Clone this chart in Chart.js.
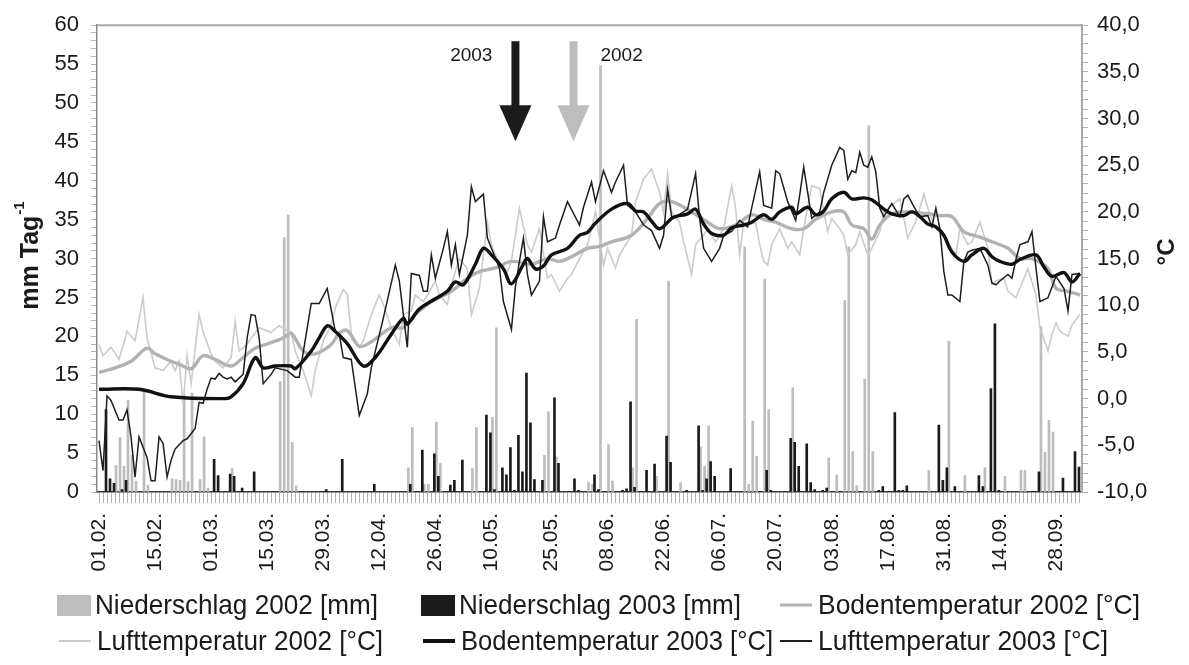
<!DOCTYPE html>
<html>
<head>
<meta charset="utf-8">
<script src="https://cdn.jsdelivr.net/npm/chart.js@4.4.1/dist/chart.umd.min.js"></script>
<style>
    html, body { margin: 0; padding: 0; background: #fff; }
</style>
</head>
<body>
<canvas id="chart" width="1189" height="665"></canvas>
<script>
/* Niederschlag + Boden-/Lufttemperatur 2002 vs 2003, 01.02. – 04.10. */

const FONT = '"Liberation Sans", Arial, sans-serif';
const DAY_COUNT = 246;

const TICK_DAYS = [0, 14, 28, 42, 56, 70, 84, 98, 113, 127, 141, 155, 169, 183, 197, 211, 225, 239];
const TICK_LABELS = ["01.02.", "15.02.", "01.03.", "15.03.", "29.03.", "12.04.", "26.04.", "10.05.", "25.05.",
    "08.06.", "22.06.", "06.07.", "20.07.", "03.08.", "17.08.", "31.08.", "14.09.", "28.09."];

/* [day, mm] */
const PRECIP_2002 = [
    [4, 3.4], [5, 7.0], [6, 3.3], [7, 11.8], [8, 4.7], [9, 1.4], [11, 13.2], [12, 0.9], [18, 1.7], [19, 1.6],
    [20, 1.5], [21, 12.6], [22, 1.3], [23, 12.7], [25, 1.6], [26, 7.1], [27, 0.5], [33, 3.0], [45, 14.2], [46, 32.7],
    [47, 35.6], [48, 6.4], [49, 0.8], [77, 3.1], [78, 8.3], [81, 1.0], [82, 1.0], [84, 9.0], [85, 3.7], [93, 3.0],
    [94, 8.3], [98, 9.6], [99, 21.1], [111, 4.7], [112, 10.3], [114, 4.5], [122, 1.2], [123, 1.0], [125, 54.8], [127, 6.1],
    [128, 1.4], [133, 3.1], [134, 22.2], [139, 2.0], [142, 27.1], [145, 1.2], [150, 5.8], [151, 3.3], [152, 8.5], [161, 31.5],
    [162, 1.0], [163, 9.1], [164, 4.6], [166, 27.4], [167, 10.6], [173, 13.4], [182, 4.4], [184, 2.2], [186, 24.6], [187, 31.5],
    [188, 5.2], [189, 0.8], [191, 14.5], [192, 47.1], [193, 5.2], [207, 2.8], [212, 19.4], [216, 2.1], [221, 3.1], [226, 2.0],
    [230, 2.8], [231, 2.8], [235, 21.3], [236, 5.1], [237, 9.2], [238, 7.7]
];

const PRECIP_2003 = [
    [2, 10.6], [3, 1.7], [4, 1.1], [6, 0.3], [7, 1.5], [29, 4.2], [30, 2.1], [33, 2.3], [34, 2.0], [36, 0.5],
    [39, 2.6], [57, 0.3], [61, 4.2], [69, 1.0], [78, 1.0], [81, 5.4], [84, 4.9], [85, 2.0], [88, 0.9], [89, 1.5],
    [91, 4.1], [97, 9.9], [98, 7.6], [99, 0.3], [101, 3.1], [102, 2.2], [103, 5.7], [104, 0.2], [105, 7.3], [106, 2.6],
    [107, 15.3], [108, 8.9], [109, 1.6], [111, 1.5], [114, 12.1], [115, 3.7], [119, 1.7], [120, 0.2], [124, 2.2], [125, 0.3],
    [131, 0.2], [132, 0.4], [133, 11.6], [134, 0.6], [137, 2.8], [139, 3.6], [142, 7.2], [143, 3.8], [147, 0.2], [150, 8.5],
    [151, 0.2], [152, 1.7], [153, 3.9], [154, 2.0], [158, 3.0], [167, 2.8], [168, 0.2], [173, 6.9], [174, 6.4], [175, 3.3],
    [177, 6.2], [178, 1.2], [179, 0.3], [181, 0.2], [182, 0.5], [195, 0.2], [196, 0.7], [199, 10.2], [200, 0.2], [201, 0.2],
    [202, 0.8], [210, 8.6], [211, 1.5], [212, 3.1], [214, 0.7], [220, 2.1], [221, 0.7], [223, 13.3], [224, 21.6], [225, 0.2],
    [235, 2.6], [241, 1.8], [244, 5.2], [245, 3.2]
];

/* [day, °C] */
const SOIL_2002 = [
    [0, 2.8], [4, 3.3], [8, 4.0], [12, 5.4], [14, 4.8], [18, 4.0], [20, 3.7], [23, 3.2], [26, 4.6], [29, 4.2],
    [33, 3.5], [36, 4.4], [39, 5.4], [43, 6.0], [46, 6.5], [48, 7.0], [51, 5.1], [54, 4.8], [58, 5.8], [60, 7.0],
    [62, 7.3], [65, 5.6], [68, 6.1], [73, 7.6], [76, 7.6], [79, 9.0], [83, 10.4], [88, 11.5], [92, 12.9], [95, 13.6],
    [99, 14.0], [103, 14.7], [108, 14.4], [112, 15.0], [115, 14.7], [118, 15.2], [122, 16.1], [125, 16.3], [128, 16.8], [133, 17.5],
    [137, 19.3], [140, 20.9], [143, 21.1], [148, 20.0], [152, 18.9], [155, 18.2], [159, 18.6], [163, 19.7], [166, 19.2], [169, 18.9],
    [173, 18.2], [176, 18.2], [179, 19.2], [183, 20.0], [186, 20.0], [188, 18.6], [191, 18.2], [193, 17.1], [195, 18.6], [198, 19.8],
    [202, 20.0], [207, 19.8], [210, 19.6], [213, 19.5], [216, 17.9], [220, 17.3], [223, 16.8], [227, 16.1], [230, 15.0], [233, 15.0],
    [237, 13.9], [239, 11.8], [242, 11.5], [245, 11.1]
];

const AIR_2002 = [
    [0, 5.8], [1, 4.6], [3, 5.5], [5, 4.2], [7, 7.2], [9, 6.2], [11, 10.8], [12, 6.5], [14, 3.3], [16, 3.0],
    [18, 4.0], [19, 3.0], [20, 4.0], [21, -0.6], [22, 4.6], [23, 1.6], [25, 9.0], [26, 7.2], [28, 4.8], [29, 4.0],
    [31, 3.3], [33, 4.4], [34, 8.3], [35, 5.1], [37, 5.8], [38, 6.5], [40, 7.6], [43, 7.1], [45, 7.8], [48, 7.1],
    [49, 5.1], [51, 3.0], [53, 0.3], [54, 3.0], [56, 6.2], [58, 7.9], [59, 9.7], [61, 11.7], [62, 11.2], [63, 6.9],
    [65, 5.5], [66, 6.2], [68, 9.0], [70, 11.1], [71, 10.1], [73, 7.6], [75, 5.8], [76, 9.0], [78, 9.4], [79, 11.1],
    [81, 10.4], [82, 11.1], [84, 12.6], [85, 11.1], [87, 10.1], [88, 12.2], [90, 15.0], [92, 13.9], [93, 9.0], [95, 11.8],
    [97, 18.9], [98, 16.5], [100, 14.3], [102, 13.6], [103, 14.7], [105, 20.4], [107, 16.5], [108, 15.7], [110, 18.2], [112, 12.9],
    [113, 13.3], [115, 11.5], [117, 12.9], [118, 13.3], [120, 15.0], [122, 16.5], [124, 20.0], [126, 14.3], [127, 16.1], [129, 14.0],
    [130, 15.4], [133, 17.5], [134, 21.1], [136, 23.5], [138, 24.6], [140, 22.1], [141, 20.0], [142, 24.1], [143, 20.0], [145, 18.9],
    [146, 16.8], [148, 13.3], [149, 16.5], [151, 17.5], [152, 18.2], [154, 16.8], [156, 18.2], [158, 22.8], [159, 20.4], [160, 15.4],
    [161, 18.9], [162, 18.6], [164, 18.9], [165, 16.5], [166, 14.7], [167, 14.3], [168, 16.5], [170, 18.2], [172, 16.1], [173, 16.8],
    [175, 15.4], [176, 18.2], [178, 22.8], [180, 22.5], [181, 20.0], [182, 17.9], [183, 19.3], [185, 18.2], [186, 17.5], [187, 15.4],
    [189, 16.5], [190, 17.9], [192, 15.4], [193, 16.1], [195, 17.9], [196, 20.0], [198, 20.7], [200, 21.4], [201, 19.3], [202, 17.2],
    [204, 19.0], [205, 20.4], [206, 21.9], [207, 20.4], [209, 18.2], [211, 17.5], [212, 16.8], [214, 15.4], [215, 18.2], [217, 16.5],
    [218, 16.8], [220, 18.9], [222, 16.1], [223, 12.2], [224, 12.6], [226, 12.9], [227, 11.5], [229, 10.8], [231, 12.9], [232, 13.9],
    [234, 11.1], [235, 7.6], [237, 5.1], [238, 6.9], [239, 8.1], [240, 7.2], [242, 6.7], [243, 7.9], [245, 9.0]
];

const SOIL_2003 = [
    [0, 1.0], [10, 1.0], [18, 0.2], [31, 0.0], [33, 0.2], [36, 1.6], [39, 4.4], [41, 3.3], [44, 3.5], [48, 3.5],
    [49, 3.2], [53, 5.1], [55, 6.5], [57, 7.8], [59, 7.2], [62, 5.9], [66, 3.5], [69, 4.4], [73, 6.9], [76, 8.6],
    [77, 8.0], [80, 9.6], [84, 10.7], [87, 11.5], [89, 12.5], [91, 12.2], [94, 14.4], [96, 16.1], [98, 15.4], [101, 13.9],
    [103, 12.3], [106, 14.4], [107, 15.0], [109, 13.9], [111, 14.2], [113, 15.4], [117, 16.1], [120, 17.5], [122, 17.8], [124, 18.8],
    [128, 20.3], [132, 20.9], [134, 20.1], [136, 20.0], [138, 19.0], [140, 18.2], [143, 19.3], [144, 19.5], [147, 19.8], [149, 20.3],
    [151, 18.7], [153, 17.7], [156, 17.5], [158, 18.3], [161, 18.6], [163, 18.9], [166, 19.7], [168, 19.2], [170, 20.0], [173, 20.5],
    [174, 19.8], [177, 20.5], [179, 19.7], [181, 20.1], [183, 21.4], [186, 22.1], [188, 21.4], [191, 21.5], [193, 21.3], [196, 20.3],
    [198, 19.8], [201, 19.6], [203, 20.0], [205, 19.5], [207, 18.7], [209, 18.4], [211, 17.5], [213, 15.7], [216, 14.7], [218, 15.4],
    [221, 16.1], [223, 15.2], [225, 14.7], [228, 14.4], [230, 14.9], [234, 15.4], [236, 14.1], [238, 13.1], [241, 13.5], [243, 12.5],
    [245, 13.4]
];

const AIR_2003 = [
    [0, -4.5], [1, -7.7], [2, 0.3], [3, -0.2], [5, -2.3], [6, -2.3], [7, -1.2], [8, -4.1], [9, -8.4], [10, -4.1],
    [12, -6.3], [13, -8.8], [14, -8.8], [15, -4.1], [16, -4.8], [17, -8.4], [18, -6.6], [19, -5.4], [21, -4.5], [22, -4.3],
    [24, -3.2], [25, -0.4], [26, -0.5], [27, 1.0], [28, 2.2], [29, 2.1], [30, 2.7], [31, 2.3], [32, 2.1], [33, 2.3],
    [34, 1.8], [36, 2.6], [37, 6.5], [38, 9.0], [39, 8.9], [40, 6.5], [41, 1.6], [43, 2.6], [44, 3.3], [47, 3.0],
    [49, 2.3], [50, 2.3], [53, 10.2], [55, 10.2], [57, 11.8], [59, 7.2], [60, 6.9], [61, 4.4], [63, 4.2], [65, -1.8],
    [67, 0.5], [68, 3.3], [71, 8.6], [74, 14.3], [75, 12.6], [77, 5.5], [78, 13.4], [80, 13.2], [81, 11.5], [82, 11.5],
    [83, 15.4], [84, 12.9], [86, 16.1], [87, 17.9], [88, 14.3], [89, 16.5], [90, 13.3], [92, 17.5], [93, 22.7], [94, 21.1],
    [96, 21.9], [97, 17.2], [98, 16.1], [100, 14.0], [101, 10.4], [103, 7.4], [104, 12.0], [105, 14.7], [106, 17.2], [107, 13.3],
    [108, 11.1], [110, 12.6], [111, 19.5], [112, 16.8], [114, 17.2], [115, 18.6], [117, 21.1], [120, 18.6], [121, 20.5], [123, 23.2],
    [124, 21.1], [126, 24.4], [128, 22.1], [129, 23.2], [131, 25.0], [132, 20.7], [134, 20.0], [136, 18.6], [138, 18.0], [140, 16.1],
    [141, 17.5], [142, 22.4], [143, 19.5], [144, 19.5], [146, 20.0], [147, 20.3], [149, 24.1], [150, 19.3], [151, 16.1], [153, 14.7],
    [155, 16.1], [156, 17.5], [158, 17.9], [160, 19.1], [162, 18.4], [163, 20.4], [165, 24.3], [166, 20.7], [168, 20.4], [169, 24.4],
    [170, 24.1], [172, 21.1], [174, 19.1], [175, 21.8], [176, 24.8], [178, 19.3], [180, 20.0], [181, 22.1], [183, 25.0], [185, 26.9],
    [186, 26.6], [187, 23.5], [188, 24.4], [189, 24.2], [190, 26.4], [191, 25.0], [192, 24.8], [193, 25.9], [194, 24.3], [195, 20.4],
    [196, 19.5], [198, 20.9], [199, 20.2], [200, 19.5], [201, 21.4], [202, 21.8], [204, 20.2], [205, 19.5], [207, 19.6], [208, 18.4],
    [209, 20.4], [210, 18.2], [211, 13.6], [212, 11.1], [213, 11.1], [215, 10.4], [216, 14.7], [217, 15.7], [218, 15.9], [220, 16.1],
    [222, 14.3], [223, 12.4], [224, 12.2], [225, 12.6], [227, 13.3], [228, 12.9], [229, 14.9], [230, 16.5], [232, 16.8], [233, 17.9],
    [234, 14.0], [235, 10.4], [237, 10.8], [239, 13.1], [241, 11.8], [242, 9.4], [243, 13.3], [245, 13.4]
];

/* Pfeile oben im Diagramm */
const ARROW_DAYS = [104, 118.5];
const ARROW_LABELS = ["2003", "2002"];

const C = {
    rain02: "#bdbdbd",
    rain03: "#1b1b1b",
    soil02: "#b2b2b2",
    air02: "#cbcbcb",
    soil03: "#111111",
    air03: "#1e1e1e",
    text: "#1a1a1a",
    axis: "#8a8a8a",
    frame: "#a8a8a8",
    tick: "#b4b4b4"
};

function pts(list) { return list.map(([x, y]) => ({ x, y })); }

function range(a, b) { const r = []; for (let i = a; i <= b; i++) r.push({ value: i }); return r; }

/* ── Extras: Rahmen, Pfeile, Achsentitel, Legende ── */
const extras = {
    id: "extras",
    afterDatasetsDraw(chart) {
        const { ctx, chartArea: a, scales } = chart;
        ctx.save();
        ARROW_DAYS.forEach((day, i) => {
            const x = scales.x.getPixelForValue(day);
            const top = a.top + 16;
            const col = i === 0 ? C.rain03 : C.rain02;
            ctx.fillStyle = col;
            ctx.fillRect(x - 4, top, 8, 66);
            ctx.beginPath();
            ctx.moveTo(x - 16, top + 64);
            ctx.lineTo(x + 16, top + 64);
            ctx.lineTo(x, top + 100);
            ctx.closePath();
            ctx.fill();
            ctx.fillStyle = C.text;
            ctx.font = `19px ${FONT}`;
            ctx.textBaseline = "middle";
            ctx.textAlign = i === 0 ? "right" : "left";
            ctx.fillText(ARROW_LABELS[i], i === 0 ? x - 23 : x + 27, a.top + 31);
        });
        ctx.restore();
    },
    afterDraw(chart) {
        const { ctx, chartArea: a } = chart;
        ctx.save();

        /* top frame line */
        ctx.strokeStyle = C.frame;
        ctx.lineWidth = 2;
        ctx.beginPath();
        ctx.moveTo(a.left, a.top);
        ctx.lineTo(a.right, a.top);
        ctx.stroke();

        /* left title: mm Tag^-1 */
        ctx.fillStyle = C.text;
        ctx.translate(31, 256);
        ctx.rotate(-Math.PI / 2);
        ctx.textBaseline = "middle";
        ctx.textAlign = "left";
        ctx.font = `bold 25px ${FONT}`;
        const w1 = ctx.measureText("mm Tag").width;
        ctx.font = `bold 15px ${FONT}`;
        const w2 = ctx.measureText("-1").width;
        const sx = -(w1 + w2) / 2;
        ctx.font = `bold 25px ${FONT}`;
        ctx.fillText("mm Tag", sx, 0);
        ctx.font = `bold 15px ${FONT}`;
        ctx.fillText("-1", sx + w1 + 1, -11);
        ctx.setTransform(1, 0, 0, 1, 0, 0);

        /* right title: °C */
        ctx.translate(1167, 252);
        ctx.rotate(-Math.PI / 2);
        ctx.textAlign = "center";
        ctx.font = `bold 24px ${FONT}`;
        ctx.fillText("°C", 0, 0);
        ctx.setTransform(1, 0, 0, 1, 0, 0);

        /* legend */
        const items = [
            { kind: "box", color: C.rain02, text: "Niederschlag 2002 [mm]", x: 57, y: 605, tw: 283 },
            { kind: "box", color: C.rain03, text: "Niederschlag 2003 [mm]", x: 421, y: 605, tw: 282 },
            { kind: "line", color: C.soil02, lw: 3, text: "Bodentemperatur 2002 [°C]", x: 780, y: 605, tw: 322 },
            { kind: "line", color: C.air02, lw: 2, text: "Lufttemperatur 2002 [°C]", x: 59, y: 641, tw: 286 },
            { kind: "line", color: C.soil03, lw: 4, text: "Bodentemperatur 2003 [°C]", x: 423, y: 641, tw: 312 },
            { kind: "line", color: C.air03, lw: 2, text: "Lufttemperatur 2003 [°C]", x: 780, y: 641, tw: 290 }
        ];
        ctx.textBaseline = "middle";
        ctx.textAlign = "left";
        items.forEach(it => {
            if (it.kind === "box") {
                ctx.fillStyle = it.color;
                ctx.fillRect(it.x, it.y - 10, 34, 21);
            } else {
                ctx.strokeStyle = it.color;
                ctx.lineWidth = it.lw;
                ctx.beginPath();
                ctx.moveTo(it.x, it.y);
                ctx.lineTo(it.x + 32, it.y);
                ctx.stroke();
            }
            ctx.fillStyle = C.text;
            ctx.font = `28px ${FONT}`;
            ctx.fillText(it.text, it.x + 38, it.y + 1, it.tw);
        });
        ctx.restore();
    }
};

const tickFont = { family: FONT, size: 22 };

new Chart(document.getElementById("chart"), {
    type: "bar",
    data: {
        datasets: [
            { type: "bar", label: "Niederschlag 2002 [mm]", data: pts(PRECIP_2002), backgroundColor: C.rain02,
              yAxisID: "y", order: 10, categoryPercentage: 1, barPercentage: 1 },
            { type: "bar", label: "Niederschlag 2003 [mm]", data: pts(PRECIP_2003), backgroundColor: C.rain03,
              yAxisID: "y", order: 9, categoryPercentage: 1, barPercentage: 1 },
            { type: "line", label: "Lufttemperatur 2002 [°C]", data: pts(AIR_2002), borderColor: C.air02,
              borderWidth: 1.6, pointRadius: 0, tension: 0, yAxisID: "y1", order: 5 },
            { type: "line", label: "Bodentemperatur 2002 [°C]", data: pts(SOIL_2002), borderColor: C.soil02,
              borderWidth: 3.4, pointRadius: 0, tension: 0.35, yAxisID: "y1", order: 4 },
            { type: "line", label: "Lufttemperatur 2003 [°C]", data: pts(AIR_2003), borderColor: C.air03,
              borderWidth: 1.5, pointRadius: 0, tension: 0, yAxisID: "y1", order: 3 },
            { type: "line", label: "Bodentemperatur 2003 [°C]", data: pts(SOIL_2003), borderColor: C.soil03,
              borderWidth: 3.4, pointRadius: 0, tension: 0.35, yAxisID: "y1", order: 2 }
        ]
    },
    options: {
        responsive: false,
        animation: false,
        devicePixelRatio: 1,
        layout: { padding: { top: 22, left: 0, right: 0, bottom: 0 } },
        plugins: { legend: { display: false }, tooltip: { enabled: false } },
        scales: {
            x: {
                type: "linear", min: -0.5, max: DAY_COUNT - 0.5, offset: false,
                afterBuildTicks: s => { s.ticks = range(0, DAY_COUNT - 1); },
                afterFit: s => { s.height = 173; },
                ticks: {
                    autoSkip: false, minRotation: 90, maxRotation: 90, padding: 10,
                    color: C.text, font: { family: FONT, size: 21 },
                    callback: v => { const i = TICK_DAYS.indexOf(v); return i >= 0 ? TICK_LABELS[i] : ""; }
                },
                grid: { drawOnChartArea: false, offset: false, tickLength: 11, color: C.tick },
                border: { color: "#333", width: 1.5 }
            },
            y: {
                position: "left", min: 0, max: 60,
                afterBuildTicks: s => { s.ticks = range(0, 60); },
                afterFit: s => { s.width = 97; },
                ticks: {
                    autoSkip: false, padding: 12, color: C.text, font: tickFont,
                    callback: v => (v % 5 === 0 ? String(v) : "")
                },
                grid: { drawOnChartArea: false, tickLength: 6, color: C.tick },
                border: { color: C.axis, width: 1.5 }
            },
            y1: {
                position: "right", min: -10, max: 40,
                afterBuildTicks: s => { s.ticks = range(-10, 40); },
                afterFit: s => { s.width = 107; },
                ticks: {
                    autoSkip: false, padding: 9, color: C.text, font: tickFont,
                    callback: v => (v % 5 === 0 ? v.toFixed(1).replace(".", ",") : "")
                },
                grid: { drawOnChartArea: false, tickLength: 6, color: C.tick },
                border: { color: C.frame, width: 2 }
            }
        }
    },
    plugins: [extras]
});
</script>
</body>
</html>
